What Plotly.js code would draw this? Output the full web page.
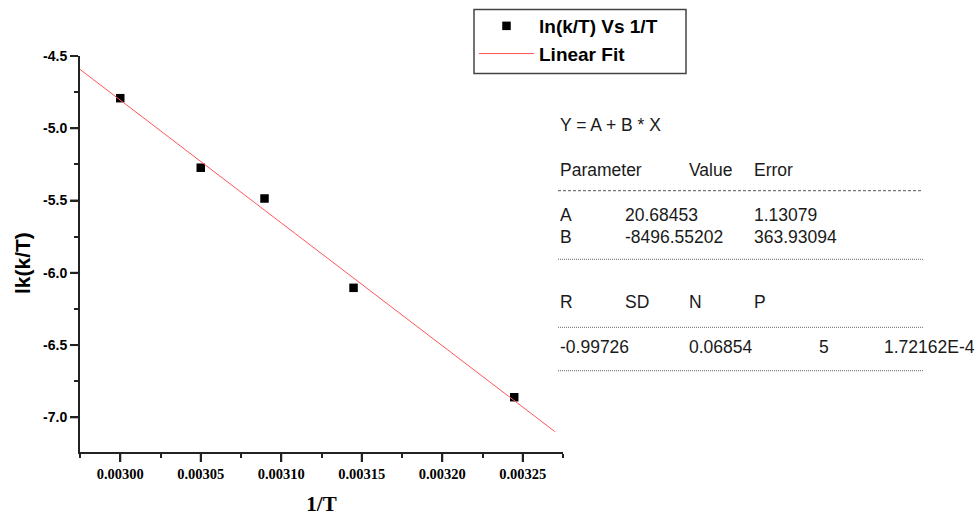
<!DOCTYPE html>
<html>
<head>
<meta charset="utf-8">
<script src="https://cdn.plot.ly/plotly-3.0.1.min.js"></script>
<style>html,body{margin:0;padding:0;background:#fff;}#chart{width:977px;height:516px;}</style>
</head>
<body>
<div id="chart"></div>
<script>
// ---- data ----
const invT = [0.0030000, 0.0030500, 0.0030896, 0.0031449, 0.0032447];
const lnkT = [-4.792, -5.273, -5.486, -6.104, -6.861];
const fitA = 20.68453;
const fitB = -8496.55202;
const fitX = [0.002975, 0.003270];
const fitY = fitX.map(x => fitA + fitB * x);
const xTickVals = [0.00300, 0.00305, 0.00310, 0.00315, 0.00320, 0.00325];
const xTickText = ['0.00300', '0.00305', '0.00310', '0.00315', '0.00320', '0.00325'];
const xMinorVals = [0.002975, 0.003025, 0.003075, 0.003125, 0.003175, 0.003225, 0.003275];
const yTickVals = [-4.5, -5.0, -5.5, -6.0, -6.5, -7.0];
const yTickText = ['-4.5', '-5.0', '-5.5', '-6.0', '-6.5', '-7.0'];
const yMinorVals = [-4.75, -5.25, -5.75, -6.25, -6.75];
const statsHeader = ['Parameter', 'Value', 'Error'];
const paramRows = [['A', '20.68453', '1.13079'], ['B', '-8496.55202', '363.93094']];
const statHeader2 = ['R', 'SD', 'N', 'P'];
const statValues = ['-0.99726', '0.06854', '5', '1.72162E-4'];

// ---- layout helpers (pixel -> paper) ----
const L = 80, R = 563, T = 56, B = 452;
const W = 977, H = 516;
const px = x => (x - L) / (R - L);
const py = y => (B - y) / (B - T);

const txtFont = {family: 'Arial, "Liberation Sans", sans-serif', size: 17.5, color: '#1a1a1a'};
const annotations = [];
function addText(t, x, y) {
  annotations.push({text: t, x: px(x), y: py(y), xref: 'paper', yref: 'paper',
    xanchor: 'left', yanchor: 'middle', showarrow: false, font: txtFont});
}
addText('Y = A + B * X', 558, 125);
const c1 = [558, 687, 752];
statsHeader.forEach((t, i) => addText(t, c1[i], 169.5));
const c2 = [558, 623, 752];
paramRows.forEach((row, r) => row.forEach((t, i) => addText(t, c2[i], 214.5 + r * 22)));
const c3 = [558, 623, 687, 752];
statHeader2.forEach((t, i) => addText(t, c3[i], 301.5));
const c4 = [558, 687, 817, 882];
statValues.forEach((t, i) => addText(t, c4[i], 346.5));
// y-axis title
annotations.push({text: 'lk(k/T)', textangle: -90, x: px(22), y: py(263), xref: 'paper', yref: 'paper',
  xanchor: 'center', yanchor: 'middle', showarrow: false,
  font: {family: 'Arial, "Liberation Sans", sans-serif', size: 21, color: '#000', weight: 'bold'}});

const axCol = '#222';
const shapes = [];
function hline(y, x0, x1, dash, w, col) {
  shapes.push({type: 'line', xref: 'paper', yref: 'paper', x0: px(x0), x1: px(x1), y0: py(y), y1: py(y),
    line: {color: col, width: w, dash: dash}});
}
hline(190.7, 558, 922, '3px,2px', 1, '#555');
hline(259.3, 558, 924, '1px,1px', 1, '#666');
hline(327.3, 558, 924, '1px,1px', 1, '#666');
hline(370.7, 558, 924, '1px,1px', 1, '#666');
// legend frame
shapes.push({type: 'rect', xref: 'paper', yref: 'paper', x0: px(474), x1: px(686), y0: py(9.5), y1: py(73.5),
  line: {color: '#444', width: 1.5}, fillcolor: 'rgba(0,0,0,0)'});
// major tick marks, placed by the axes' own scales at the tick values
xTickVals.forEach(v => shapes.push({type: 'line', xref: 'x', yref: 'paper', x0: v, x1: v,
  ysizemode: 'pixel', yanchor: 0, y0: -1, y1: -10, line: {color: axCol, width: 2}}));
yTickVals.forEach(v => shapes.push({type: 'line', yref: 'y', xref: 'paper', y0: v, y1: v,
  xsizemode: 'pixel', xanchor: 0, x0: -1, x1: -10, line: {color: axCol, width: 2}}));

const traces = [
  {x: invT, y: lnkT, type: 'scatter', mode: 'markers', name: 'ln(k/T) Vs 1/T',
   marker: {symbol: 'square', size: 8.5, color: '#000'}},
  {x: fitX, y: fitY, type: 'scatter', mode: 'lines', name: 'Linear Fit',
   line: {color: 'rgb(255,85,85)', width: 1}}
];

const xr = [0.002975, 0.003275], yr = [-7.24, -4.5];
const layout = {
  width: W, height: H,
  margin: {l: L, r: W - R, t: T, b: H - B, pad: 0, autoexpand: false},
  paper_bgcolor: '#fff', plot_bgcolor: '#fff',
  showlegend: true,
  legend: {
    x: px(474), y: py(7), xref: 'paper', yref: 'paper', xanchor: 'left', yanchor: 'top',
    borderwidth: 0, bgcolor: 'rgba(0,0,0,0)',
    font: {family: 'Arial, "Liberation Sans", sans-serif', size: 19, color: '#000', weight: 'bold'},
    itemwidth: 55, tracegroupgap: 0
  },
  xaxis: {
    range: xr, showgrid: false, zeroline: false,
    showline: true, linecolor: axCol, linewidth: 2,
    tickmode: 'array', ticks: 'outside', ticklen: 8, tickwidth: 2, tickcolor: axCol,
    tickvals: xTickVals, ticktext: xTickText,
    tickfont: {family: '"Liberation Serif", "Times New Roman", serif', size: 14.5, color: '#000', weight: 'bold'},
    minor: {tickmode: 'array', tickvals: xMinorVals, ticks: 'outside', ticklen: 4, tickwidth: 2, tickcolor: axCol, showgrid: false},
    title: {text: '1/T', standoff: 18,
      font: {family: '"Liberation Serif", "Times New Roman", serif', size: 21, color: '#000', weight: 'bold'}}
  },
  yaxis: {
    range: yr, showgrid: false, zeroline: false,
    showline: true, linecolor: axCol, linewidth: 2,
    tickmode: 'array', ticks: 'outside', ticklen: 8, tickwidth: 2, tickcolor: axCol,
    tickvals: yTickVals, ticktext: yTickText,
    tickfont: {family: 'Arial, "Liberation Sans", sans-serif', size: 14, color: '#000', weight: 'bold'},
    minor: {tickmode: 'array', tickvals: yMinorVals, ticks: 'outside', ticklen: 4, tickwidth: 2, tickcolor: axCol, showgrid: false}
  },
  annotations: annotations,
  shapes: shapes
};

Plotly.newPlot('chart', traces, layout, {displayModeBar: false});
</script>
</body>
</html>
